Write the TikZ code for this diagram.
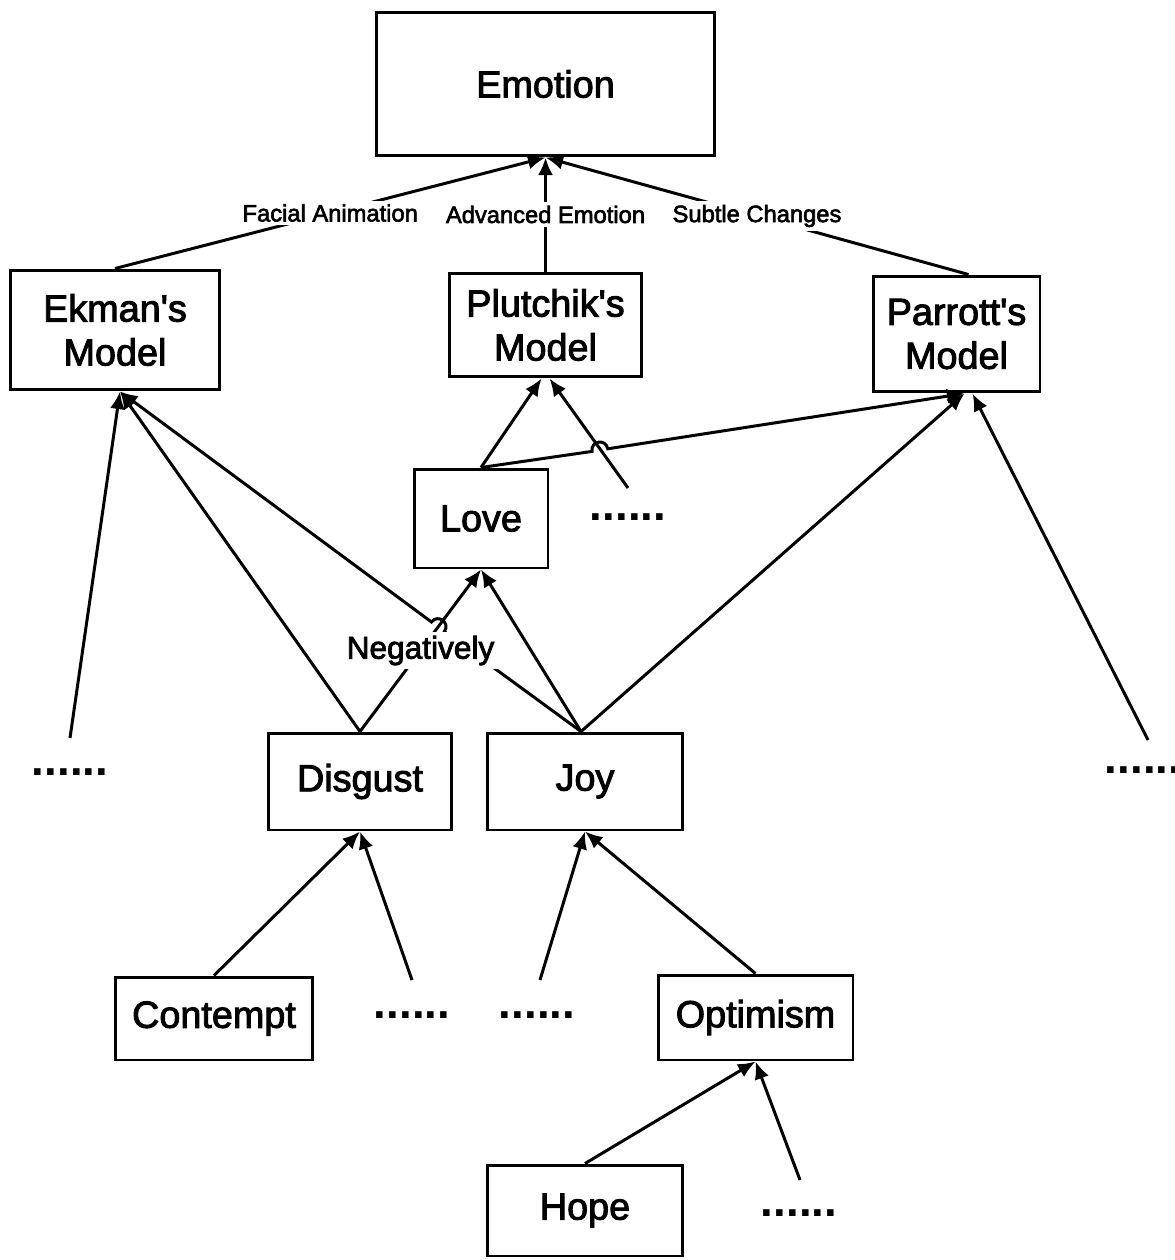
\documentclass[tikz,border=0pt]{standalone}
\usepackage{fontspec}
\setmainfont{Liberation Sans}
\newfontfamily\heavysans{Liberation Sans}[FakeBold=2.5]
\usetikzlibrary{arrows.meta,calc}
\begin{document}
\begin{tikzpicture}[x=0.02cm,y=-0.02cm,
  box/.style={draw,line width=1.7pt,inner sep=0pt,align=center,
              font=\heavysans\fontsize{21.5}{25}\selectfont},
  link/.style={line width=1.7pt,-{Latex[length=10pt,width=8.5pt]}},
  lab/.style={fill=white,inner sep=2pt,font=\heavysans\fontsize{13.5}{16}\selectfont},
  neg/.style={fill=white,inner sep=2pt,font=\heavysans\fontsize{18}{20}\selectfont},
  more/.style={inner sep=0pt,font=\fontsize{26}{28}\selectfont\bfseries}]
\useasboundingbox (0,0) rectangle (1175,1260);

% concept boxes
\node[box,minimum width=6.78cm,minimum height=2.88cm] (emo) at (545.5,84) {Emotion};
\node[box,minimum width=4.2cm,minimum height=2.4cm] (ekman) at (115,330) {Ekman's\\Model};
\node[box,minimum width=3.86cm,minimum height=2.08cm] (plut) at (545.5,325) {Plutchik's\\Model};
\node[box,minimum width=3.34cm,minimum height=2.32cm] (parr) at (956.5,334) {Parrott's\\Model};
\node[box,minimum width=2.68cm,minimum height=1.98cm] (love) at (481,518.5) {Love};
\node[box,minimum width=3.68cm,minimum height=1.94cm] (disgust) at (360,781.5) {Disgust};
\node[box,minimum width=3.92cm,minimum height=1.94cm] (joy) at (585,781.5) {Joy};
\node[box,minimum width=3.96cm,minimum height=1.66cm] (contempt) at (214,1018.5) {Contempt};
\node[box,minimum width=3.9cm,minimum height=1.7cm] (opt) at (755.5,1017.5) {Optimism};
\node[box,minimum width=3.92cm,minimum height=1.82cm] (hope) at (585,1210.5) {Hope};

% ellipses standing for further entries
\node[more] (dotsL) at (70,772) {......};
\node[more] (dotsR) at (1143,770) {......};
\node[more] (dotsP) at (628,517) {......};
\node[more] (dotsD1) at (412,1015) {......};
\node[more] (dotsD2) at (537,1015) {......};
\node[more] (dotsH) at (799,1213) {......};

% loose ends of the links from the ellipses
\coordinate (cL) at (70,738);
\coordinate (cR) at (1148,740);
\coordinate (cP) at (628,488);
\coordinate (cD1) at (412,980);
\coordinate (cD2) at (540,980);
\coordinate (cH) at (800,1180);

% shared arrival points
\coordinate (ekb) at ($(ekman.south)+(5,0)$);
\coordinate (prb) at ($(parr.south)+(8,0)$);
\coordinate (joyt) at ($(joy.north)+(-4,0)$);

% line hops
\coordinate (h1a) at (592.1,451.4);
\coordinate (h1b) at (607.7,448.8);
\coordinate (k1a) at (590.4,440.8);
\coordinate (k1b) at (606.0,438.2);
\coordinate (h2a) at (431.5,622.0);
\coordinate (h2b) at (444.3,631.6);
\coordinate (k2a) at (437.9,613.4);
\coordinate (k2b) at (450.7,623.0);

% models to emotion
\draw[link] (ekman.north) -- node[lab]{Facial Animation} (emo.south);
\draw[link] (plut.north) -- node[lab]{Advanced Emotion} (emo.south);
\draw[link] ($(parr.north)+(12,0)$) -- node[lab]{Subtle Changes} (emo.south);

% into Ekman's model
\draw[link] (cL) -- (ekb);
\draw[link] (disgust.north) -- (ekb);
\draw[link] (joyt) -- (h2b) .. controls (k2b) and (k2a) .. (h2a) -- (ekb);

% into Plutchik's model
\draw[link] (love.north) -- ($(plut.south)+(-4,0)$);
\draw[link] (cP) -- ($(plut.south)+(4,0)$);

% into Parrott's model
\draw[link] (love.north) -- (h1a) .. controls (k1a) and (k1b) .. (h1b) -- (prb);
\draw[link] (joyt) -- (prb);
\draw[link] (cR) -- ($(prb)+(8,0)$);

% into Love
\draw[link] (joyt) -- (love.south);
\draw[link] (disgust.north) -- node[neg]{Negatively} (love.south);

% lower levels
\draw[link] (contempt.north) -- (disgust.south);
\draw[link] (cD1) -- (disgust.south);
\draw[link] (cD2) -- (joy.south);
\draw[link] (opt.north) -- (joy.south);
\draw[link] (hope.north) -- (opt.south);
\draw[link] (cH) -- (opt.south);
\end{tikzpicture}
\end{document}
